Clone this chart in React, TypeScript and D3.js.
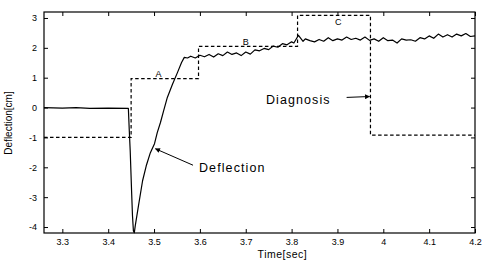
import { useRef, useEffect } from 'react'
import * as d3 from 'd3'

// time [sec] / deflection [cm]
const deflT = [
  3.26, 3.3, 3.33, 3.36, 3.4, 3.444, 3.446, 3.448, 3.451, 3.453, 3.455, 3.457,
  3.459, 3.466, 3.475, 3.483, 3.492, 3.501, 3.507, 3.514, 3.521, 3.529, 3.54, 3.551, 3.56, 3.566, 3.573,
  3.58, 3.59, 3.6, 3.61, 3.62, 3.63, 3.64, 3.65, 3.66, 3.67, 3.68, 3.69, 3.7, 3.71, 3.72, 3.73,
  3.74, 3.75, 3.76, 3.77, 3.78, 3.79, 3.8, 3.805, 3.815, 3.825, 3.83, 3.84, 3.85, 3.86, 3.87, 3.88,
  3.89, 3.9, 3.91, 3.92, 3.93, 3.94, 3.95, 3.96, 3.97, 3.98, 3.99, 4.0, 4.01, 4.02, 4.03, 4.04,
  4.05, 4.06, 4.07, 4.08, 4.09, 4.1, 4.11, 4.12, 4.13, 4.14, 4.15, 4.16, 4.17, 4.18, 4.19, 4.2,
]
const deflV = [
  0.0, -0.02, 0.0, -0.03, -0.02, -0.03, -0.77, -1.44, -2.79, -3.62, -4.13, -4.19,
  -3.96, -3.29, -2.45, -1.95, -1.51, -1.21, -0.84, -0.5, -0.1, 0.34, 0.77, 1.17, 1.51, 1.68, 1.66,
  1.72, 1.66, 1.75, 1.7, 1.78, 1.69, 1.8, 1.74, 1.86, 1.78, 1.83, 1.74, 1.86, 1.79, 1.93, 1.9,
  1.98, 1.94, 2.06, 2.02, 2.14, 2.1, 2.2, 2.16, 2.42, 2.22, 2.3, 2.24, 2.2, 2.28, 2.22, 2.34,
  2.24, 2.3, 2.26, 2.36, 2.28, 2.32, 2.26, 2.36, 2.25, 2.3, 2.22, 2.34, 2.24, 2.26, 2.16, 2.3,
  2.26, 2.27, 2.22, 2.34, 2.3, 2.4, 2.32, 2.46, 2.36, 2.44, 2.36, 2.46, 2.4, 2.48, 2.38, 2.4,
]

// diagnosis step signal
const diagT = [3.26, 3.45, 3.45, 3.597, 3.597, 3.813, 3.813, 3.972, 3.972, 4.2]
const diagV = [-1.0, -1.0, 0.97, 0.97, 2.05, 2.05, 3.09, 3.09, -0.92, -0.92]

// step labels A, B, C
const stepLabels = ['A', 'B', 'C']
const stepLabelT = [3.51, 3.7, 3.902]
const stepLabelV = [1.03, 2.11, 2.75]

const xTicks = [3.3, 3.4, 3.5, 3.6, 3.7, 3.8, 3.9, 4.0, 4.1, 4.2]
const yTicks = [-4, -3, -2, -1, 0, 1, 2, 3]

export default function App() {
  const svgRef = useRef<SVGSVGElement>(null)

  useEffect(() => {
    if (!svgRef.current) return
    const width = 482
    const height = 261
    const m = { left: 44, right: 7, top: 12, bottom: 28 }
    const bw = width - m.left - m.right
    const bh = height - m.top - m.bottom

    const svg = d3.select(svgRef.current)
    svg.selectAll('*').remove()

    const g = svg.append('g').attr('transform', `translate(${m.left},${m.top})`)

    const x = d3.scaleLinear().domain([3.26, 4.2]).range([0, bw])
    const y = d3.scaleLinear().domain([-4.2, 3.2]).range([bh, 0])

    const font = 'Liberation Sans, Arial, sans-serif'
    const fmt = (d: any) => String(+(+d).toFixed(1))

    // axes with inward ticks on all four sides
    const styleAxis = (sel: any) => {
      sel.select('.domain').remove()
      sel.selectAll('line').attr('stroke', '#000').attr('stroke-width', 1)
      sel.selectAll('text').attr('fill', '#000').style('font-family', font).style('font-size', '9px')
    }
    g.append('g')
      .attr('transform', `translate(0,${bh})`)
      .call(d3.axisBottom(x).tickValues(xTicks).tickSizeInner(-4).tickSizeOuter(0).tickPadding(6).tickFormat(fmt))
      .call(styleAxis)
    g.append('g')
      .call(d3.axisTop(x).tickValues(xTicks).tickSizeInner(-4).tickSizeOuter(0).tickFormat(() => ''))
      .call(styleAxis)
    g.append('g')
      .call(d3.axisLeft(y).tickValues(yTicks).tickSizeInner(-4).tickSizeOuter(0).tickPadding(7).tickFormat(fmt))
      .call(styleAxis)
    g.append('g')
      .attr('transform', `translate(${bw},0)`)
      .call(d3.axisRight(y).tickValues(yTicks).tickSizeInner(-4).tickSizeOuter(0).tickFormat(() => ''))
      .call(styleAxis)

    g.append('rect')
      .attr('width', bw)
      .attr('height', bh)
      .attr('fill', 'none')
      .attr('stroke', '#000')
      .attr('stroke-width', 1.2)

    // diagnosis (dashed)
    const diagLine = d3
      .line<number>()
      .x((_, i) => x(diagT[i]))
      .y((d) => y(d))
    g.append('path')
      .datum(diagV)
      .attr('d', diagLine)
      .attr('fill', 'none')
      .attr('stroke', '#000')
      .attr('stroke-width', 1.2)
      .attr('stroke-dasharray', '3.5,2.5')

    // deflection (solid)
    const deflLine = d3
      .line<number>()
      .x((_, i) => x(deflT[i]))
      .y((d) => y(d))
    g.append('path')
      .datum(deflV)
      .attr('d', deflLine)
      .attr('fill', 'none')
      .attr('stroke', '#000')
      .attr('stroke-width', 1.2)
      .attr('stroke-linejoin', 'round')

    // step labels
    stepLabels.forEach((s, i) => {
      g.append('text')
        .attr('x', x(stepLabelT[i]))
        .attr('y', y(stepLabelV[i]))
        .attr('text-anchor', 'middle')
        .style('font-family', font)
        .style('font-size', '9px')
        .text(s)
    })

    // arrows
    const defs = svg.append('defs')
    defs
      .append('marker')
      .attr('id', 'ah')
      .attr('viewBox', '0 0 10 10')
      .attr('refX', 9)
      .attr('refY', 5)
      .attr('markerWidth', 6)
      .attr('markerHeight', 5)
      .attr('orient', 'auto')
      .append('path')
      .attr('d', 'M0,0 L10,5 L0,10 z')
      .attr('fill', '#000')

    // Diagnosis annotation
    g.append('text')
      .attr('x', x(3.744))
      .attr('y', y(0.12))
      .style('font-family', font)
      .style('font-size', '12.5px')
      .style('letter-spacing', '1.1px')
      .text('Diagnosis')
    g.append('line')
      .attr('x1', x(3.92))
      .attr('y1', y(0.34))
      .attr('x2', x(3.97))
      .attr('y2', y(0.37))
      .attr('stroke', '#000')
      .attr('stroke-width', 1)
      .attr('marker-end', 'url(#ah)')

    // Deflection annotation
    g.append('text')
      .attr('x', x(3.598))
      .attr('y', y(-2.16))
      .style('font-family', font)
      .style('font-size', '12.5px')
      .style('letter-spacing', '1.1px')
      .text('Deflection')
    g.append('line')
      .attr('x1', x(3.585))
      .attr('y1', y(-1.93))
      .attr('x2', x(3.503))
      .attr('y2', y(-1.38))
      .attr('stroke', '#000')
      .attr('stroke-width', 1)
      .attr('marker-end', 'url(#ah)')

    // axis titles
    svg
      .append('text')
      .attr('x', m.left + x(3.78))
      .attr('y', 258)
      .attr('text-anchor', 'middle')
      .style('font-family', font)
      .style('font-size', '10.5px')
      .style('letter-spacing', '0.5px')
      .text('Time[sec]')
    svg
      .append('text')
      .attr('transform', `translate(12,123) rotate(-90)`)
      .attr('text-anchor', 'middle')
      .style('font-family', font)
      .style('font-size', '10px')
      .text('Deflection[cm]')
  }, [])

  return (
    <div style={{ position: 'absolute', left: 0, top: 0 }}>
      <svg ref={svgRef} width={482} height={261} style={{ display: 'block', background: '#fff' }} />
    </div>
  )
}
